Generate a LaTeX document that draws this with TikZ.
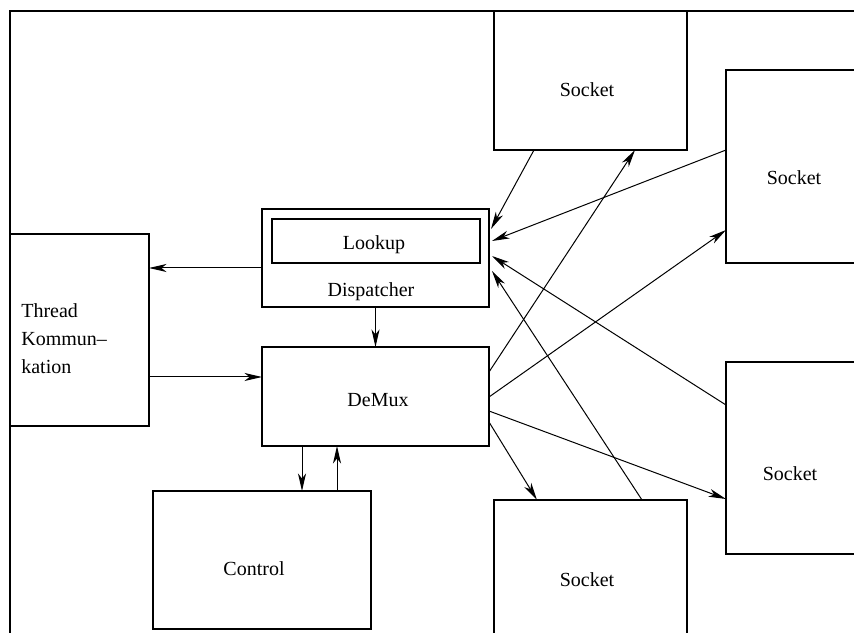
\documentclass[tikz,border=0pt]{standalone}
\usepackage{fontspec}
\setmainfont{Liberation Serif}
\usetikzlibrary{positioning,arrows.meta,calc}
\newcommand{\px}{0.6pt}
\tikzset{
  box/.style={draw,line width=0.65pt,rectangle,inner sep=0pt,outer sep=0pt,anchor=north west},
  lbl/.style={font=\fontsize{12}{16.8}\selectfont,inner sep=0pt,anchor=base},
  conn/.style={-{Stealth[length=10.5pt,width=4.8pt,inset=3pt]},line width=0.6pt},
}

\begin{document}
\begin{tikzpicture}[x=\px,y=-\px]
  \useasboundingbox (0,0) rectangle (854,633);
  \clip (0,0) rectangle (854,633);
  % outer frame
  \draw[line width=0.65pt] (10,700) -- (10,11) -- (900,11);
  % blocks
  \node[box,minimum width=139*\px,minimum height=192*\px] (thr) at (10,234) {};
  \node[box,minimum width=227*\px,minimum height=98*\px] (disp) at (262,209) {};
  \node[box,minimum width=208*\px,minimum height=44*\px] (look) at (272,219) {};
  \node[box,minimum width=227*\px,minimum height=99*\px] (demux) at (262,347) {};
  \node[box,minimum width=218*\px,minimum height=138*\px] (ctrl) at (153,491) {};
  % sockets
  \node[box,minimum width=193*\px,minimum height=139*\px] (sockA) at (494,11) {};
  \node[box,minimum width=136*\px,minimum height=193*\px] (sockB) at (726,70) {};
  \node[box,minimum width=136*\px,minimum height=192*\px] (sockC) at (726,362) {};
  \node[box,minimum width=193*\px,minimum height=160*\px] (sockD) at (494,500) {};
  % texts
  \node[lbl,anchor=west,align=left] (thrtxt) at (21,339) {Thread\\Kommun--\\kation};
  \node[lbl] (looktxt) at (374,250) {Lookup};
  \node[lbl] (disptxt) at (371,297) {Dispatcher};
  \node[lbl] (demuxtxt) at (378,407) {DeMux};
  \node[lbl] (ctrltxt) at (254,575) {Control};
  \node[lbl] (sockAtxt) at (587,97) {Socket};
  \node[lbl] (sockBtxt) at (794,185) {Socket};
  \node[lbl] (sockCtxt) at (790,481) {Socket};
  \node[lbl] (sockDtxt) at (587,586) {Socket};
  % connectors
  \draw[conn] ($(disp.west)+(0,10)$) -- ($(thr.east)+(0,-62)$);
  \draw[conn] ($(thr.east)+(0,47)$) -- ($(demux.west)+(0,-19.5)$);
  \draw[conn] (disp.south) -- (demux.north);
  \draw[conn] ($(demux.south)+(-73.5,0)$) -- ($(ctrl.north)+(40,0)$);
  \draw[conn] ($(ctrl.north)+(75,0)$) -- ($(demux.south)+(-38.5,0)$);
  % sockets -> dispatcher
  \draw[conn] ($(sockA.south west)+(40,0)$) -- ($(disp.north east)+(2,20)$);
  \draw[conn] ($(sockB.west)+(0,-16.5)$) -- ($(disp.north east)+(3,32)$);
  \draw[conn] ($(sockC.west)+(0,-53)$) -- ($(disp.east)+(3,-2)$);
  \draw[conn] ($(sockD.north west)+(148,0)$) -- ($(disp.east)+(3,13)$);
  % demux -> sockets
  \draw[conn] ($(demux.north east)+(0,25)$) -- ($(sockA.south west)+(141,0)$);
  \draw[conn] ($(demux.east)+(0,0.5)$) -- ($(sockB.west)+(0,63.5)$);
  \draw[conn] ($(demux.east)+(0,14.5)$) -- ($(sockC.west)+(0,41)$);
  \draw[conn] ($(demux.east)+(0,25.5)$) -- ($(sockD.north west)+(43,0)$);
\end{tikzpicture}
\end{document}
